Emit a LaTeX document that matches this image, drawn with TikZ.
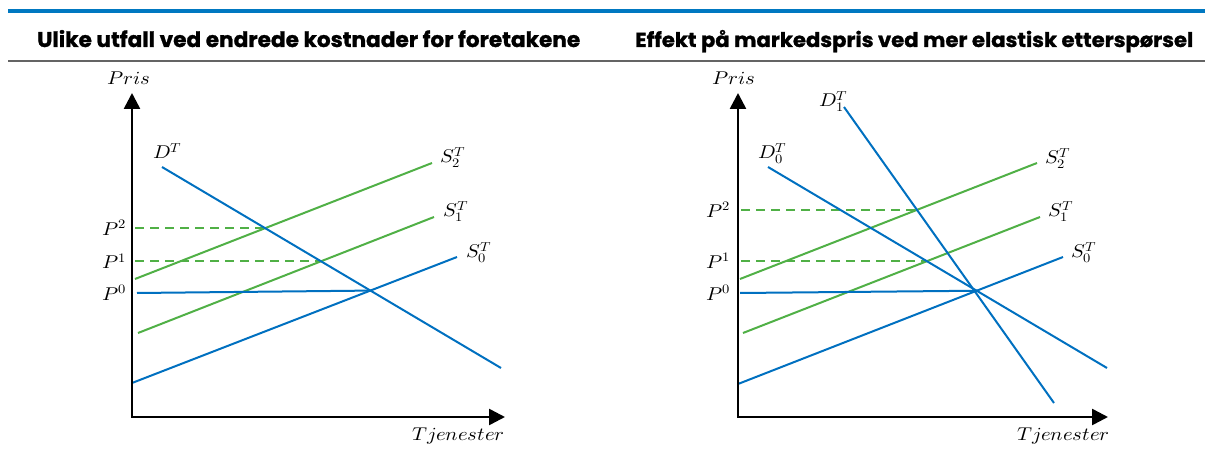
\documentclass[tikz,border=0pt]{standalone}
\usepackage{fontspec}
\usepackage{unicode-math}
\setmathfont{Latin Modern Math}
\newfontfamily\titlefont{Poppins}[BoldFeatures={FakeBold=1.2}]
\usetikzlibrary{arrows.meta,calc}

\definecolor{barblue}{RGB}{0,120,193}
\definecolor{rulegray}{RGB}{100,100,100}
\definecolor{curveblue}{RGB}{0,112,192}
\definecolor{curvegreen}{RGB}{80,176,70}

% axis and curve labels: slightly widened math italic
\newcommand{\mlab}[1]{\scalebox{1.12}[1]{$#1$}}

\begin{document}
\begin{tikzpicture}[x=1pt,y=-1pt,
  axis/.style={line width=2.6pt,
    {Triangle[length=16pt,width=16pt]}-{Triangle[length=16pt,width=16pt]}},
  demand/.style={draw=curveblue, line width=2pt},
  supply/.style={draw=curvegreen, line width=2pt},
  guide/.style={draw=curvegreen, line width=2pt, dash pattern=on 9pt off 6pt},
  lbl/.style={font=\fontsize{18.5}{21}\selectfont, inner sep=0pt},
  heading/.style={font=\titlefont\bfseries\fontsize{20}{22}\selectfont, inner sep=0pt, anchor=base west}]

\useasboundingbox (0,0) rectangle (1205,457);

% header bar, rule and panel titles
\coordinate (barL) at (8,11);
\coordinate (barR) at (1205,11);
\coordinate (ruleL) at (8,61);
\coordinate (ruleR) at (1205,61);
\draw[barblue, line width=4pt] (barL) -- (barR);
\draw[rulegray, line width=2pt] (ruleL) -- (ruleR);
\node[heading] (titleL) at (37,47) {\resizebox{543pt}{17pt}{Ulike utfall ved endrede kostnader for foretakene}};
\node[heading] (titleR) at (635,47) {\resizebox{558pt}{17pt}{Effekt på markedspris ved mer elastisk etterspørsel}};

% ---------- left panel ----------
\coordinate (Ly) at (132,93);
\coordinate (LO) at (132,417);
\coordinate (Lx) at (505,417);

\coordinate (LD1) at (162,167);  \coordinate (LD2) at (501,368);
\coordinate (LS2a) at (135,279); \coordinate (LS2b) at (432,163);
\coordinate (LS1a) at (138,333); \coordinate (LS1b) at (434,217);
\coordinate (LS0a) at (132,383); \coordinate (LS0b) at (457,257);
\coordinate (LP0a) at (137,293);

\coordinate (LE0) at (intersection of LD1--LD2 and LS0a--LS0b);
\coordinate (LE1) at (intersection of LD1--LD2 and LS1a--LS1b);
\coordinate (LE2) at (intersection of LD1--LD2 and LS2a--LS2b);
\coordinate (LP1a) at ($(LO |- LE1)+(3,0)$);
\coordinate (LP2a) at ($(LO |- LE2)+(3,0)$);

\draw[guide] (LP2a) -- (LE2);
\draw[guide] (LP1a) -- (LE1);
\draw[supply] (LS2a) -- (LS2b);
\draw[supply] (LS1a) -- (LS1b);
\draw[demand] (LS0a) -- (LS0b);
\draw[demand] (LD1) -- (LD2);
\draw[demand] (LP0a) -- (LE0);
\draw[axis] (Ly) -- (LO) -- (Lx);

\node[lbl, anchor=base west] (LPris) at (107,85) {\mlab{Pris}};
\node[lbl, anchor=base west] (LTj) at (412,440) {\mlab{Tjenester}};
\node[lbl, anchor=base west] (LDlab) at (153,159) {\mlab{D^T}};
\node[lbl, anchor=base west] (LS2lab) at (440,163) {\mlab{S_2^T}};
\node[lbl, anchor=base west] (LS1lab) at (443,217) {\mlab{S_1^T}};
\node[lbl, anchor=base west] (LS0lab) at (466,258) {\mlab{S_0^T}};
\node[lbl, anchor=base east] (LP2lab) at ($(LO |- LE2)+(-5,7.5)$) {\mlab{P^2}};
\node[lbl, anchor=base east] (LP1lab) at ($(LO |- LE1)+(-5,7.5)$) {\mlab{P^1}};
\node[lbl, anchor=base east] (LP0lab) at ($(LO |- LP0a)+(-5,7.5)$) {\mlab{P^0}};

% ---------- right panel ----------
\coordinate (Ry) at (738,93);
\coordinate (RO) at (738,417);
\coordinate (Rx) at (1108,417);

\coordinate (RD0a) at (768,167);  \coordinate (RD0b) at (1107,368);
\coordinate (RD1a) at (844,107);  \coordinate (RD1b) at (1054,403);
\coordinate (RS2a) at (740,279);  \coordinate (RS2b) at (1037,163);
\coordinate (RS1a) at (743,333);  \coordinate (RS1b) at (1040,217);
\coordinate (RS0a) at (738,384);  \coordinate (RS0b) at (1063,257);
\coordinate (RP0a) at (740,293);

\coordinate (RE0) at (intersection of RD0a--RD0b and RS0a--RS0b);
\coordinate (RE1) at (intersection of RD0a--RD0b and RS1a--RS1b);
\coordinate (RE2) at (intersection of RD1a--RD1b and RS2a--RS2b);
\coordinate (RP1a) at ($(RO |- RE1)+(3,0)$);
\coordinate (RP2a) at ($(RO |- RE2)+(3,0)$);

\draw[guide] (RP2a) -- (RE2);
\draw[guide] (RP1a) -- (RE1);
\draw[supply] (RS2a) -- (RS2b);
\draw[supply] (RS1a) -- (RS1b);
\draw[demand] (RS0a) -- (RS0b);
\draw[demand] (RD0a) -- (RD0b);
\draw[demand] (RD1a) -- (RD1b);
\draw[demand] (RP0a) -- (RE0);
\draw[axis] (Ry) -- (RO) -- (Rx);

\node[lbl, anchor=base west] (RPris) at (712,85) {\mlab{Pris}};
\node[lbl, anchor=base west] (RTj) at (1017,440) {\mlab{Tjenester}};
\node[lbl, anchor=base west] (RD0lab) at (758,159) {\mlab{D_0^T}};
\node[lbl, anchor=base west] (RD1lab) at (819,107) {\mlab{D_1^T}};
\node[lbl, anchor=base west] (RS2lab) at (1045,164) {\mlab{S_2^T}};
\node[lbl, anchor=base west] (RS1lab) at (1048,217) {\mlab{S_1^T}};
\node[lbl, anchor=base west] (RS0lab) at (1071,258) {\mlab{S_0^T}};
\node[lbl, anchor=base east] (RP2lab) at ($(RO |- RE2)+(-7,7.5)$) {\mlab{P^2}};
\node[lbl, anchor=base east] (RP1lab) at ($(RO |- RE1)+(-7,7.5)$) {\mlab{P^1}};
\node[lbl, anchor=base east] (RP0lab) at ($(RO |- RP0a)+(-7,7.5)$) {\mlab{P^0}};
\end{tikzpicture}
\end{document}
